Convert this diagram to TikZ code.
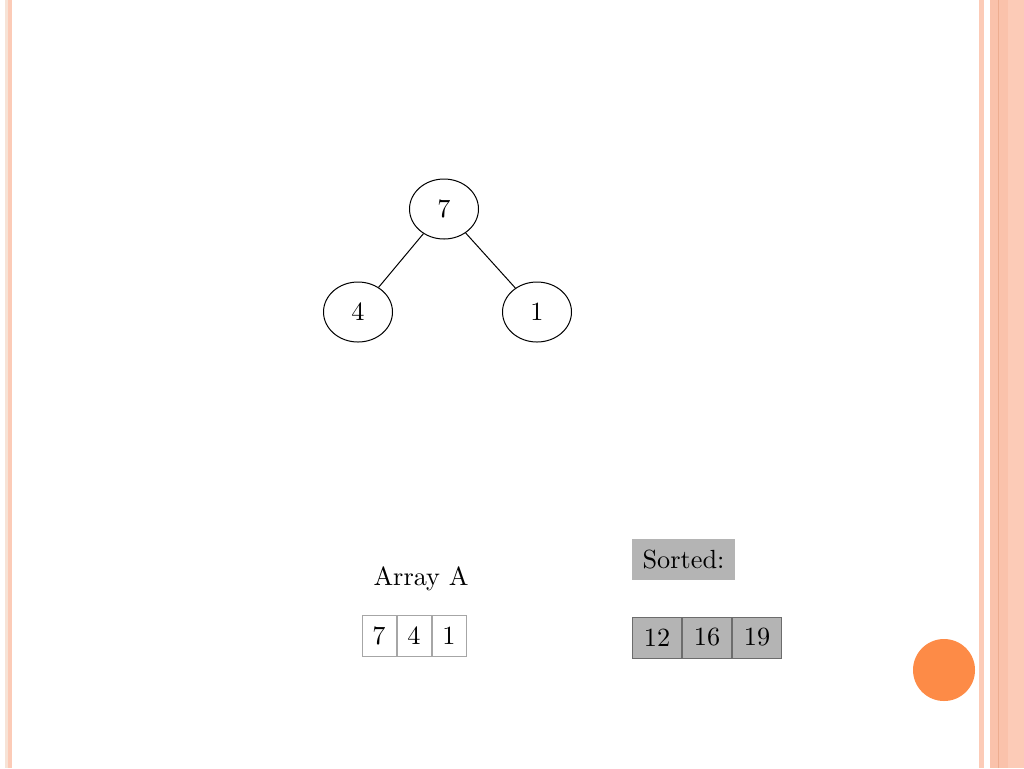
\documentclass[tikz,border=0pt]{standalone}
\usetikzlibrary{shapes.geometric,positioning}

\definecolor{edgelight}{HTML}{F7E3D6}
\definecolor{salmon}{HTML}{FCCBB7}
\definecolor{salmondark}{HTML}{FAC2AB}
\definecolor{salmonline}{HTML}{EDAD90}
\definecolor{bullet}{HTML}{FD8B47}
\definecolor{boxgray}{HTML}{B4B4B4}

\tikzset{
  vertex/.style={draw, ellipse, inner sep=0pt, minimum width=27.6pt, minimum height=24pt},
  cell/.style={draw=gray!70, inner sep=0pt, minimum width=13.6pt, minimum height=16.4pt},
  sortedcell/.style={draw=gray!85!black, fill=boxgray, inner sep=0pt, minimum width=19.6pt, minimum height=16.4pt},
  label/.style={fill=boxgray, inner sep=0pt, minimum width=41.2pt, minimum height=16.4pt}
}

\begin{document}
\begin{tikzpicture}[x=0.4pt, y=-0.4pt, every node/.style={font=\fontsize{10.5}{12}\selectfont}]
  \useasboundingbox (0,0) rectangle (1024,768);

  % page border
  \fill[edgelight] (5,0) rectangle (8,768);
  \fill[salmon] (8,0) rectangle (12,768);
  \fill[salmon] (979,0) rectangle (984,768);
  \fill[salmondark] (990,0) rectangle (1008,768);
  \fill[salmon] (1008,0) rectangle (1024,768);
  \draw[salmonline] (998,0) -- (998,768);

  % bullet
  \fill[bullet] (944,670) circle (12.4pt);

  % heap
  \node[vertex] (root) at (444,209) {7};
  \node[vertex] (left) at (358,312) {4};
  \node[vertex] (right) at (537,312) {1};
  \draw (root) -- (left);
  \draw (root) -- (right);

  % array A
  \node (arrayname) at (421,579) {Array A};
  \node[cell] (a1) at (379,635.5) {7};
  \node[cell, right=0pt of a1] (a2) {4};
  \node[cell, right=0pt of a2] (a3) {1};

  % sorted part
  \node[label] (sorted) at (683.5,559.5) {Sorted:};
  \node[sortedcell] (s1) at (657,637.5) {12};
  \node[sortedcell, right=0pt of s1] (s2) {16};
  \node[sortedcell, right=0pt of s2] (s3) {19};
\end{tikzpicture}
\end{document}
